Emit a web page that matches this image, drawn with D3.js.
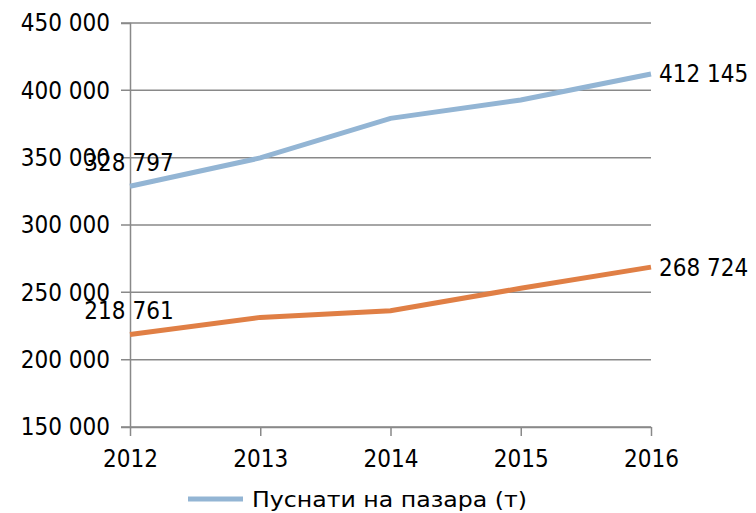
<!DOCTYPE html>
<html>
<head>
<meta charset="utf-8">
<script src="https://cdn.jsdelivr.net/npm/d3@7"></script>
<style>
  body { margin: 0; background: #fff; }
  text { font-family: "DejaVu Sans Condensed", "DejaVu Sans", sans-serif; fill: #000; }
</style>
</head>
<body>
<svg id="chart" width="756" height="513"></svg>
<script>
var width = 756;
var height = 513;

// values
var years = [2012, 2013, 2014, 2015, 2016];
var placedOnMarket = [328797, 349800, 379200, 392800, 412145];
var secondSeries = [218761, 231400, 236300, 253000, 268724];
var yTicks = [150000, 200000, 250000, 300000, 350000, 400000, 450000];
var legendLabel = "Пуснати на пазара (т)";

var margin = { top: 23, right: 105, bottom: 86, left: 130 };
var fontSize = "24px";
var fontFam = "DejaVu Sans Condensed";

var svg = d3.select("#chart");

var x = d3.scaleLinear()
    .domain([2012, 2016])
    .range([margin.left, width - margin.right]);

var y = d3.scaleLinear()
    .domain([150000, 450000])
    .range([height - margin.bottom, margin.top]);

var fmt = function (d) { return d3.format(",")(d).replace(/,/g, " "); };

// horizontal gridlines
svg.append("g")
    .selectAll("line")
    .data(yTicks)
    .enter().append("line")
    .attr("x1", x(2012) - 9)
    .attr("x2", x(2016))
    .attr("y1", function (d) { return y(d); })
    .attr("y2", function (d) { return y(d); })
    .attr("stroke", "#898989")
    .attr("stroke-width", 1.5);

// y axis
var yAxis = svg.append("g")
    .attr("transform", "translate(" + x(2012) + ",0)")
    .call(d3.axisLeft(y).tickValues(yTicks).tickFormat(fmt).tickSize(9).tickPadding(11));
yAxis.select(".domain").attr("stroke", "#898989").attr("stroke-width", 1.5);
yAxis.selectAll(".tick line").attr("stroke", "none");
yAxis.selectAll("text").attr("font-size", fontSize).attr("font-family", fontFam).attr("fill", "#000");

// x axis
var xAxis = svg.append("g")
    .attr("transform", "translate(0," + y(150000) + ")")
    .call(d3.axisBottom(x).tickValues(years).tickFormat(d3.format("d")).tickSize(9).tickPadding(14).tickSizeOuter(0));
xAxis.select(".domain").attr("stroke", "#898989").attr("stroke-width", 1.5);
xAxis.selectAll(".tick line").attr("stroke", "#898989").attr("stroke-width", 1.5);
xAxis.selectAll("text").attr("font-size", fontSize).attr("font-family", fontFam).attr("fill", "#000");

var line = d3.line()
    .x(function (d, i) { return x(years[i]); })
    .y(function (d) { return y(d); });

svg.append("path")
    .datum(secondSeries)
    .attr("d", line)
    .attr("fill", "none")
    .attr("stroke", "#e07f45")
    .attr("stroke-width", 5);

svg.append("path")
    .datum(placedOnMarket)
    .attr("d", line)
    .attr("fill", "none")
    .attr("stroke", "#93b5d4")
    .attr("stroke-width", 5);

// data labels at ends
function endLabels(series) {
    var first = series[0], last = series[series.length - 1];
    svg.append("text")
        .attr("x", x(years[0]) - 1)
        .attr("y", y(first) - 15.5)
        .attr("text-anchor", "middle")
        .attr("font-size", fontSize)
        .text(fmt(first));
    svg.append("text")
        .attr("x", x(years[years.length - 1]) + 8)
        .attr("y", y(last))
        .attr("dy", "0.35em")
        .attr("font-size", fontSize)
        .text(fmt(last));
}
endLabels(placedOnMarket);
endLabels(secondSeries);

// legend
var lg = svg.append("g").attr("transform", "translate(188,499)");
lg.append("line")
    .attr("x1", 0).attr("x2", 55)
    .attr("stroke", "#93b5d4")
    .attr("stroke-width", 5);
lg.append("text")
    .attr("x", 64)
    .attr("dy", "0.35em")
    .attr("font-size", "22px")
    .attr("font-family", "DejaVu Sans")
    .attr("textLength", 275)
    .attr("lengthAdjust", "spacingAndGlyphs")
    .text(legendLabel);
</script>
</body>
</html>
